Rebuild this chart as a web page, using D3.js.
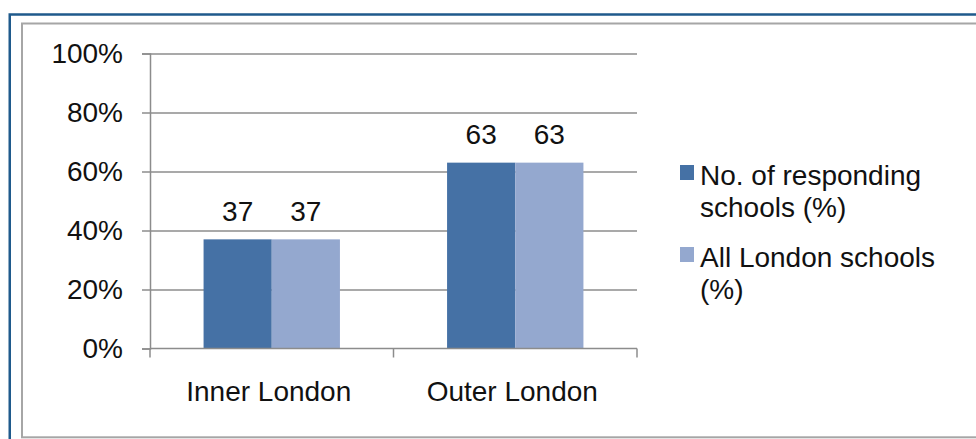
<!DOCTYPE html>
<html>
<head>
<meta charset="utf-8">
<script src="https://cdn.jsdelivr.net/npm/d3@7"></script>
<style>
  body { margin: 0; background: #fff; }
  svg { display: block; }
</style>
</head>
<body>
<div id="chart"></div>
<script>
// Data
var categories = ["Inner London", "Outer London"];
var seriesNames = ["No. of responding schools (%)", "All London schools (%)"];
var responding = [37, 63];
var allSchools = [37, 63];
var yTicks = [0, 20, 40, 60, 80, 100];

var colors = ["#4571a5", "#94a8cf"];
var seriesValues = [responding, allSchools];

var W = 976, H = 439;
var plot = { left: 150, right: 637, top: 53.5, bottom: 348.5 };

var svg = d3.select("#chart").append("svg")
    .attr("width", W)
    .attr("height", H)
    .style("font-family", "'Liberation Sans', Arial, sans-serif");

// outer frames
svg.append("rect")
    .attr("x", 9.75).attr("y", 14.5)
    .attr("width", W + 40).attr("height", H + 40)
    .attr("fill", "none")
    .attr("stroke", "#1f5a8c")
    .attr("stroke-width", 2.5);

svg.append("rect")
    .attr("x", 22).attr("y", 23.5)
    .attr("width", W + 40).attr("height", 437.3 - 23.5)
    .attr("fill", "#fff")
    .attr("stroke", "#a6a6a6")
    .attr("stroke-width", 2);

// scales
var x = d3.scaleBand().domain(categories).range([plot.left, plot.right]);
var bw = x.bandwidth();
var xSub = d3.scaleBand().domain(seriesNames).range([bw * 0.22, bw * 0.78]);
var y = d3.scaleLinear().domain([0, 100]).range([plot.bottom, plot.top]);

// gridlines
svg.append("g")
    .attr("transform", "translate(" + plot.left + ",0)")
    .call(d3.axisLeft(y).tickValues(yTicks.slice(1)).tickSize(-(plot.right - plot.left)).tickFormat(""))
    .call(function(g) {
        g.select(".domain").remove();
        g.selectAll("line").attr("stroke", "#8c8c8c").attr("stroke-width", 1.5);
    });

// bars
var flat = [];
categories.forEach(function(c, i) {
    seriesNames.forEach(function(s, j) {
        flat.push({ cat: c, series: s, idx: j, value: seriesValues[j][i] });
    });
});

svg.append("g").selectAll("rect")
    .data(flat)
    .enter().append("rect")
    .attr("x", function(d) { return x(d.cat) + xSub(d.series); })
    .attr("y", function(d) { return y(d.value); })
    .attr("width", xSub.bandwidth())
    .attr("height", function(d) { return y(0) - y(d.value); })
    .attr("fill", function(d) { return colors[d.idx]; });

// value labels
svg.append("g").selectAll("text")
    .data(flat)
    .enter().append("text")
    .attr("x", function(d) { return x(d.cat) + xSub(d.series) + xSub.bandwidth() / 2; })
    .attr("y", function(d) { return y(d.value) - 18.5; })
    .attr("text-anchor", "middle")
    .style("font-size", "28px")
    .style("fill", "#111")
    .text(function(d) { return d.value; });

// y axis
svg.append("g")
    .attr("transform", "translate(" + plot.left + ",0)")
    .call(d3.axisLeft(y).tickValues(yTicks).tickSize(8).tickPadding(19).tickFormat(function(d) { return d + "%"; }))
    .call(function(g) {
        g.select(".domain").attr("stroke", "#8c8c8c").attr("stroke-width", 1.5);
        g.selectAll("line").attr("stroke", "#8c8c8c").attr("stroke-width", 1.5);
        g.selectAll("text").style("font-size", "28px").style("font-family", "'Liberation Sans', Arial, sans-serif").attr("fill", "#111");
    });

// x axis: line, ticks at category boundaries, labels centred
var xg = svg.append("g");
xg.append("line")
    .attr("x1", plot.left).attr("x2", plot.right)
    .attr("y1", y(0)).attr("y2", y(0))
    .attr("stroke", "#8c8c8c").attr("stroke-width", 1.5);

var bounds = categories.map(function(c) { return x(c); }).concat([x(categories[categories.length - 1]) + bw]);
xg.selectAll(".xtick")
    .data(bounds)
    .enter().append("line")
    .attr("class", "xtick")
    .attr("x1", function(d) { return d; }).attr("x2", function(d) { return d; })
    .attr("y1", y(0)).attr("y2", y(0) + 9)
    .attr("stroke", "#8c8c8c").attr("stroke-width", 1.5);

xg.selectAll(".xlabel")
    .data(categories)
    .enter().append("text")
    .attr("class", "xlabel")
    .attr("x", function(d) { return x(d) + bw / 2 - 3; })
    .attr("y", 401)
    .attr("text-anchor", "middle")
    .style("font-size", "28px")
    .style("fill", "#111")
    .text(function(d) { return d; });

// legend
var legendLines = [["No. of responding", "schools (%)"], ["All London schools", "(%)"]];
var legendTop = [165, 247];
var leg = svg.append("g");
legendLines.forEach(function(lines, i) {
    leg.append("rect")
        .attr("x", 680).attr("y", legendTop[i])
        .attr("width", 14).attr("height", 15)
        .attr("fill", colors[i]);
    var t = leg.append("text")
        .attr("x", 700)
        .attr("y", legendTop[i] + 20)
        .style("font-size", "28px")
        .style("fill", "#111");
    lines.forEach(function(l, k) {
        t.append("tspan")
            .attr("x", 700)
            .attr("dy", k === 0 ? 0 : 32)
            .text(l);
    });
});
</script>
</body>
</html>
